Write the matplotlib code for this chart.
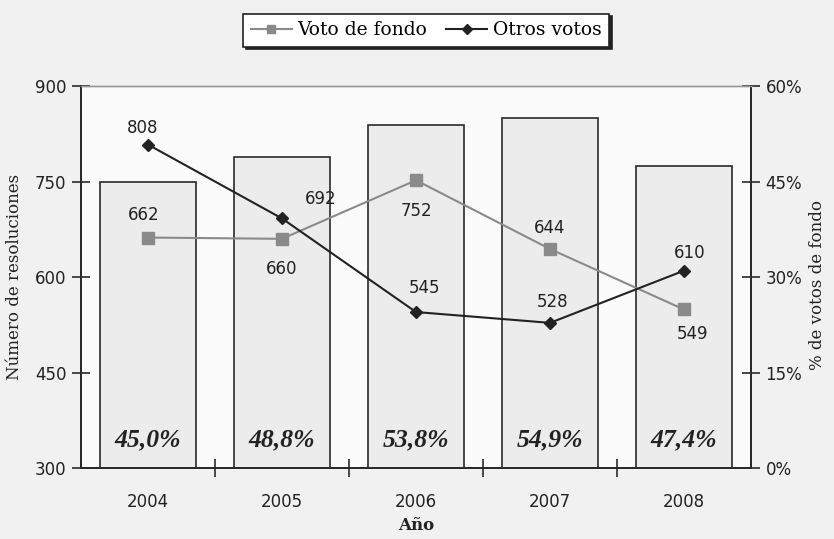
import numpy as np
import matplotlib.pyplot as plt
from matplotlib.ticker import FuncFormatter

# datos
years = ['2004', '2005', '2006', '2007', '2008']
pct_fondo = [45.0, 48.8, 53.8, 54.9, 47.4]
voto_fondo = [662, 660, 752, 644, 549]
otros_votos = [808, 692, 545, 528, 610]

# posicion de las etiquetas (offset en puntos, centro del texto)
off_fondo = [(-3, 16), (0, -22), (0, -22), (0, 15), (6, -18)]
off_otros = [(-4, 12), (28, 14), (6, 17), (2, 15), (4, 13)]

serif = ['DejaVu Serif']
sans = 'DejaVu Sans'

fig = plt.figure(figsize=(8.34, 5.39), dpi=100, facecolor='#f1f1f1')
ax2 = fig.add_axes([0.0971, 0.1317, 0.8034, 0.7087])
ax = ax2.twinx()
ax.yaxis.tick_left()
ax.yaxis.set_label_position('left')
ax2.yaxis.tick_right()
ax2.yaxis.set_label_position('right')
ax.set_zorder(ax2.get_zorder() + 1)
ax.patch.set_visible(False)
ax2.set_facecolor('#fbfbfb')

x = np.arange(len(years))

# barras (% votos de fondo) en eje derecho
ax2.bar(x, pct_fondo, width=0.72, color='#ececec', edgecolor='#2a2a2a', linewidth=1.2)
ax2.set_ylim(0, 60)
ax2.set_yticks([0, 15, 30, 45, 60])
ax2.yaxis.set_major_formatter(FuncFormatter(lambda v, p: f'{v:.0f}%'))
for i, p in enumerate(pct_fondo):
    ax2.text(i, 4.4, f'{p:.1f}%'.replace('.', ','), ha='center', va='center',
             fontsize=18.5, fontweight='bold', fontstyle='italic',
             family=['Liberation Serif'], color='#222222')

# lineas en eje izquierdo
ax.plot(x, voto_fondo, color='#8a8a8a', lw=1.5, marker='s', ms=8, label='Voto de fondo')
ax.plot(x, otros_votos, color='#222222', lw=1.5, marker='D', ms=6, label='Otros votos')
for i in range(len(years)):
    ax.annotate(str(voto_fondo[i]), (x[i], voto_fondo[i]), xytext=off_fondo[i],
                textcoords='offset points', ha='center', va='center',
                fontsize=12, family=sans, color='#222222')
    ax.annotate(str(otros_votos[i]), (x[i], otros_votos[i]), xytext=off_otros[i],
                textcoords='offset points', ha='center', va='center',
                fontsize=12, family=sans, color='#222222')

ax.set_ylim(300, 900)
ax.set_yticks([300, 450, 600, 750, 900])
ax.set_xlim(-0.5, 4.5)
ax2.set_xlim(-0.5, 4.5)

ax2.set_xticks(x)
ax2.set_xticklabels(years, fontsize=12, family=sans)
ax2.set_xticks(np.arange(-0.5, 5, 1)[1:-1], minor=True)
ax2.tick_params(axis='x', which='major', length=0, pad=18, colors='#222222')
ax2.tick_params(axis='x', which='minor', direction='inout', length=13, width=1.2, color='#2a2a2a')
ax.tick_params(axis='x', which='both', length=0, labelbottom=False)

ax.tick_params(axis='y', direction='inout', length=13, width=1.2, labelsize=12,
               color='#2a2a2a', labelcolor='#222222', pad=4)
ax2.tick_params(axis='y', direction='inout', length=13, width=1.2, labelsize=12,
                color='#2a2a2a', labelcolor='#222222', pad=4)
for a in (ax, ax2):
    for lab in a.get_yticklabels():
        lab.set_family(sans)

for a in (ax, ax2):
    for s in ('left', 'right', 'bottom'):
        a.spines[s].set_color('#2a2a2a')
        a.spines[s].set_linewidth(1.4)
    a.spines['top'].set_color('#999999')
    a.spines['top'].set_linewidth(1.0)

ax.set_ylabel('Número de resoluciones', fontsize=12, family=serif, color='#222222')
ax.yaxis.set_label_coords(-0.087, 0.5)
ax2.set_ylabel('% de votos de fondo', fontsize=12, family=serif, color='#222222')
ax2.yaxis.set_label_coords(1.086, 0.48)
ax2.set_xlabel('Año', fontsize=12, fontweight='bold', family=serif, color='#222222', labelpad=4)

leg = fig.legend(loc='upper center', bbox_to_anchor=(0.511, 0.992), ncol=2,
                 frameon=True, fancybox=False, shadow={'color': '#222222', 'alpha': 1},
                 prop={'family': serif, 'size': 13.5}, handlelength=2.2,
                 columnspacing=1.0, handletextpad=0.3, borderpad=0.4, markerscale=0.8)
leg.get_frame().set_edgecolor('#222222')
leg.get_frame().set_linewidth(1.2)
leg.get_frame().set_facecolor('white')

fig.savefig('out.png', dpi=100, facecolor=fig.get_facecolor())
